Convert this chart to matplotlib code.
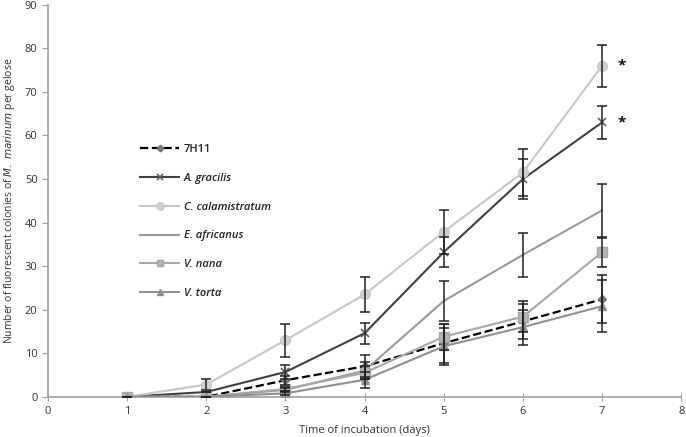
import matplotlib
matplotlib.use("Agg")
import matplotlib.pyplot as plt

# data
days = [1, 2, 3, 4, 5, 6, 7]

h7_11 = [0, 0, 3.8, 7.0, 12.3, 17.3, 22.4]
h7_11_err = [0, 0, 1.0, 2.5, 4.5, 4.0, 5.5]

gracilis = [0, 1.1, 5.7, 14.6, 33.2, 50.0, 63.0]
gracilis_err = [0, 0, 1.7, 2.4, 3.5, 4.5, 3.7]

calamistratum = [0, 2.8, 13.0, 23.5, 37.9, 51.5, 76.0]
calamistratum_err = [0, 1.2, 3.8, 4.0, 5.0, 5.5, 4.8]

africanus = [0, 0, 1.6, 6.0, 22.0, 32.6, 42.8]
africanus_err = [0, 0, 0.5, 2.0, 4.6, 5.0, 6.0]

nana = [0, 0, 1.8, 5.5, 13.8, 18.4, 33.2]
nana_err = [0, 0, 0.5, 1.5, 3.0, 3.5, 3.3]

torta = [0, 0, 0.8, 3.9, 11.6, 16.0, 20.8]
torta_err = [0, 0, 0.5, 1.8, 4.3, 4.0, 6.0]

asterisks_y = [76.0, 63.0]


def main():
    plt.rcParams['font.family'] = ['Open Sans', 'DejaVu Sans']
    fig = plt.figure(figsize=(6.86, 4.37), dpi=100)
    ax = fig.add_axes([0.07, 0.092, 0.923, 0.897])

    series = [
        ("7H11", h7_11, h7_11_err, dict(color='black', ls='--', lw=1.6, marker='D', ms=4.5,
                                         mfc='#808080', mec='#707070')),
        ("A. gracilis", gracilis, gracilis_err, dict(color='#404040', lw=1.5, marker='x', ms=6,
                                                     mec='#606060', mew=1.2)),
        ("C. calamistratum", calamistratum, calamistratum_err,
         dict(color='#c8c8c8', lw=1.5, marker='o', ms=7, mfc='#d0d0d0', mec='#c8c8c8')),
        ("E. africanus", africanus, africanus_err, dict(color='#9a9a9a', lw=1.5)),
        ("V. nana", nana, nana_err, dict(color='#a8a8a8', lw=1.5, marker='s', ms=6.5,
                                         mfc='#b4b4b4', mec='#a8a8a8')),
        ("V. torta", torta, torta_err, dict(color='#909090', lw=1.5, marker='^', ms=5.5,
                                            mfc='#909090', mec='#909090')),
    ]

    for i, (name, y, err, style) in enumerate(series):
        ax.plot(days, y, label=name, zorder=3 + i, **style)
        ax.errorbar(days, y, yerr=err, fmt='none', ecolor='#222222', elinewidth=1.1,
                    capsize=3.5, capthick=1.1, zorder=10)

    for yy in asterisks_y:
        ax.text(7.2, yy, '*', fontsize=11, fontweight='bold', va='center', ha='left',
                color='#111111')

    ax.set_xlim(0, 8)
    ax.set_ylim(0, 90)
    ax.set_xticks(range(0, 9))
    ax.set_yticks(range(0, 91, 10))
    for s in ['top', 'right']:
        ax.spines[s].set_visible(False)
    for s in ['left', 'bottom']:
        ax.spines[s].set_color('#a0a0a0')
        ax.spines[s].set_linewidth(1.2)
    ax.tick_params(axis='both', colors='#a0a0a0', labelcolor='#333333', labelsize=8, length=4)
    ax.tick_params(axis='x', direction='inout', length=6)

    ax.set_xlabel('Time of incubation (days)', fontsize=8, color='#333333', labelpad=6)
    ax.set_ylabel('Number of fluorescent colonies of $\\it{M.\\ marinum}$ per gelose',
                  fontsize=7.5, color='#333333', labelpad=6)

    leg = ax.legend(loc='upper left', bbox_to_anchor=(0.13, 0.67), frameon=False,
                    fontsize=8, handlelength=3.5, labelspacing=1.6, handletextpad=0.4,
                    markerscale=0.75)
    for t in leg.get_texts():
        if t.get_text() != '7H11':
            t.set_fontstyle('italic')
        t.set_fontweight('semibold')
        t.set_color('#222222')

    fig.savefig('out.png', dpi=100)


if __name__ == "__main__":
    main()
